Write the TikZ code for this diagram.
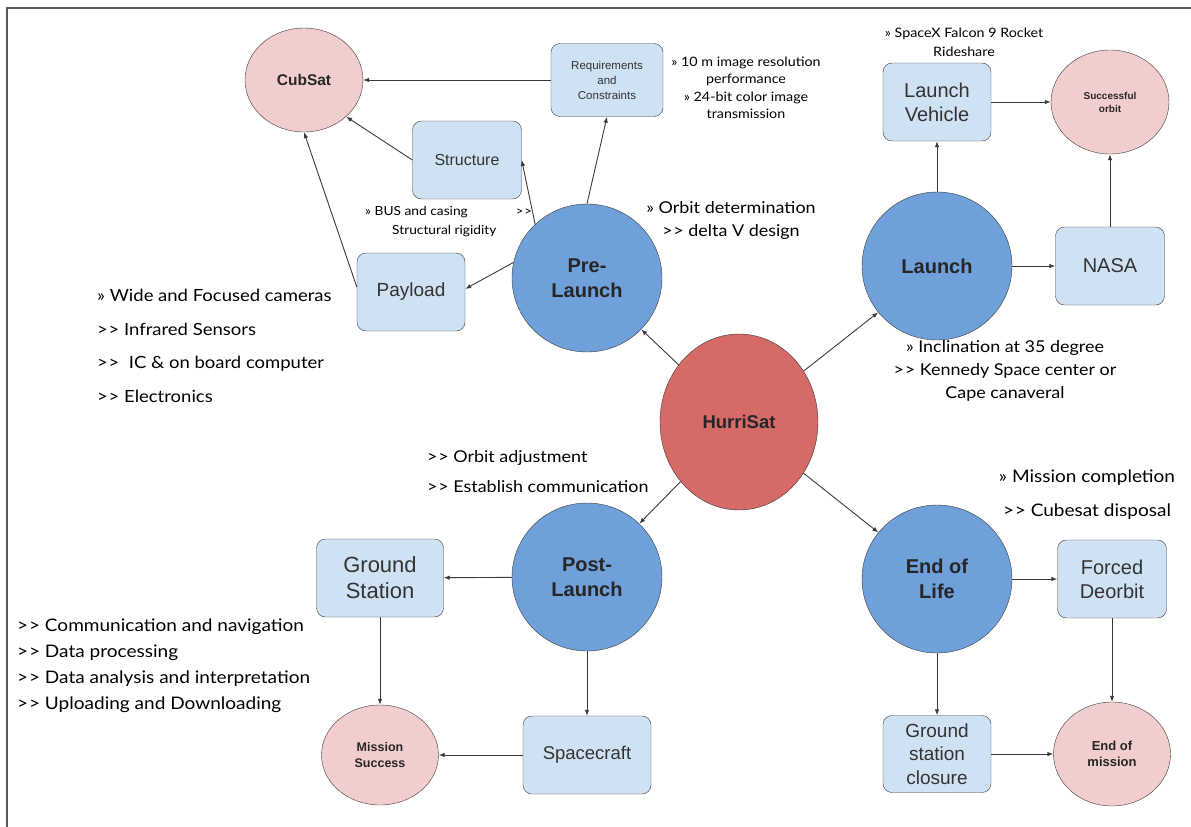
\documentclass[tikz,border=0pt]{standalone}
\usepackage{fontspec}
\setmainfont{Liberation Sans}
\newfontfamily\notefont{Lato}[FakeStretch=1.1]
\usetikzlibrary{shapes.geometric,arrows.meta}
\definecolor{hubred}{HTML}{D66A66}
\definecolor{phaseblue}{HTML}{6FA0DA}
\definecolor{boxblue}{HTML}{CFE2F3}
\definecolor{goalpink}{HTML}{F2CDCD}
\definecolor{edgegray}{HTML}{3A3A3A}
\newcommand{\dgt}{>\kern0.8pt>}
\newcommand{\fsz}[2]{\fontsize{#1}{#2}\selectfont}
\begin{document}
\begin{tikzpicture}[x=1pt,y=-1pt]
				\tikzstyle{Hub} = [ellipse, draw=edgegray, fill=hubred, minimum width=158pt, minimum height=176pt, inner sep=0pt, font=\bfseries\fsz{18.5}{21}, text=black!85]
				\tikzstyle{Phase} = [ellipse, draw=edgegray, fill=phaseblue, minimum width=150pt, minimum height=148pt, inner sep=0pt, align=center, font=\bfseries\fsz{20}{25}, text=black!85]
				\tikzstyle{Goal} = [ellipse, draw=edgegray, fill=goalpink, minimum width=118pt, minimum height=104pt, inner sep=0pt, align=center, text=black!85]
				\tikzstyle{Box} = [rectangle, rounded corners=9pt, draw=edgegray, fill=boxblue, minimum width=109pt, minimum height=78pt, inner sep=0pt, align=center, text=black!80]
				\tikzstyle{Note} = [inner sep=0pt, align=center, text=black]
				\tikzstyle{Link} = [-{Latex[length=6pt,width=4.5pt]}, draw=edgegray, line width=0.9pt]
				\useasboundingbox (0,0) rectangle (1191,827);
				\draw [line width=1.5pt, black!65] (7,827) -- (7,8) -- (1191,8);
				% centre and phases
				\node (hurrisat) at (739,422) [Hub] {HurriSat};
				\node (prelaunch) at (587,278) [Phase] {Pre-\\Launch};
				\node (launch) at (937,266) [Phase] {Launch};
				\node (postlaunch) at (587,577) [Phase] {Post-\\Launch};
				\node (endlife) at (937,579) [Phase] {End of\\Life};
				% pre-launch branch
				\node (cubsat) at (304,80) [Goal, font=\bfseries\fsz{15.5}{18}] {CubSat};
				\node (req) at (607,80) [Box, minimum width=112pt, minimum height=73pt, font=\fsz{11.5}{15}] {Requirements\\and\\Constraints};
				\node (structure) at (467,160) [Box, font=\fsz{16}{19}] {Structure};
				\node (payload) at (411,292) [Box, minimum width=108pt, font=\fsz{19}{22}] {Payload};
				% launch branch
				\node (vehicle) at (937,102) [Box, minimum width=108pt, font=\fsz{20}{24}] {Launch\\Vehicle};
				\node (orbit) at (1110,102) [Goal, font=\bfseries\fsz{10}{13}] {Successful\\orbit};
				\node (nasa) at (1110,266) [Box, font=\fsz{20}{24}] {NASA};
				% post-launch branch
				\node (station) at (380,578) [Box, minimum width=127pt, font=\fsz{22}{26}] {Ground\\Station};
				\node (success) at (380,755) [Goal, minimum width=117pt, minimum height=100pt, font=\bfseries\fsz{12.5}{16}] {Mission\\Success};
				\node (spacecraft) at (587,755) [Box, minimum width=128pt, font=\fsz{18.5}{22}] {Spacecraft};
				% end of life branch
				\node (deorbit) at (1112,579) [Box, font=\fsz{20}{24}] {Forced\\Deorbit};
				\node (closure) at (937,754) [Box, minimum width=108pt, minimum height=77pt, font=\fsz{19}{23.5}] {Ground\\station\\closure};
				\node (endmission) at (1112,754) [Goal, minimum width=117pt, font=\bfseries\fsz{13}{16}] {End of\\mission};
				% notes
				\node (reqnote) at (746,88) [Note, font=\notefont\fsz{13}{17.5}] {» 10 m image resolution\\performance\\» 24-bit color image\\transmission};
				\node (rocketnote) at (964,42) [Note, font=\notefont\fsz{13}{19}] {» SpaceX Falcon 9 Rocket\\Rideshare};
				\node (busnote) at (365,222) [Note, anchor=west, align=left, font=\notefont\fsz{12.5}{19}] {» BUS and casing\\\hspace*{27pt}Structural rigidity};
				\node (strayarrows) at (524,212) [Note, font=\notefont\fsz{12}{14}] {\dgt};
				\node (orbitnote) at (731,220) [Note, font=\notefont\fsz{16.3}{23}] {» Orbit determination\\\dgt{} delta V design};
				\node (payloadnote) at (97,346) [Note, anchor=west, align=left, font=\notefont\fsz{16.8}{33.5}] {» Wide and Focused cameras\\\dgt{} Infrared Sensors\\\dgt{} \ IC \& on board computer\\\dgt{} Electronics};
				\node (launchnote) at (1005,371) [Note, font=\notefont\fsz{16.3}{23}] {» Inclination at 35 degree\\\dgt{} Kennedy Space center or\\Cape canaveral};
				\node (postnote) at (427,472) [Note, anchor=west, align=left, font=\notefont\fsz{16.3}{30}] {\dgt{} Orbit adjustment\\\dgt{} Establish communication};
				\node (stationnote) at (17,666) [Note, anchor=west, align=left, font=\notefont\fsz{17.3}{26}] {\dgt{} Communication and navigation\\\dgt{} Data processing\\\dgt{} Data analysis and interpretation\\\dgt{} Uploading and Downloading};
				\node (endnote) at (1087,495) [Note, font=\notefont\fsz{17.3}{34}] {» Mission completion\\\dgt{} Cubesat disposal};
				% connectors
				\draw [Link] (hurrisat) to (prelaunch);
				\draw [Link] (hurrisat) to (launch);
				\draw [Link] (hurrisat) to (postlaunch);
				\draw [Link] (hurrisat) to (endlife);
				\draw [Link] (req) to (cubsat);
				\draw [Link] (structure.west) to (cubsat.-41);
				\draw [Link] ([yshift=5pt]payload.west) to (cubsat.south);
				\draw [Link] (prelaunch.168) to ([yshift=3pt]payload.east);
				\draw [Link] (prelaunch.134) to (structure.east);
				\draw [Link] (prelaunch.north) to (req.south);
				\draw [Link] (launch) to (vehicle);
				\draw [Link] (vehicle) to (orbit);
				\draw [Link] (launch) to (nasa);
				\draw [Link] (nasa) to (orbit);
				\draw [Link] (postlaunch) to (station);
				\draw [Link] (station) to (success);
				\draw [Link] (postlaunch) to (spacecraft);
				\draw [Link] (spacecraft) to (success);
				\draw [Link] (endlife) to (deorbit);
				\draw [Link] (endlife) to (closure);
				\draw [Link] (deorbit) to (endmission);
				\draw [Link] (closure) to (endmission);
\end{tikzpicture}
\end{document}
